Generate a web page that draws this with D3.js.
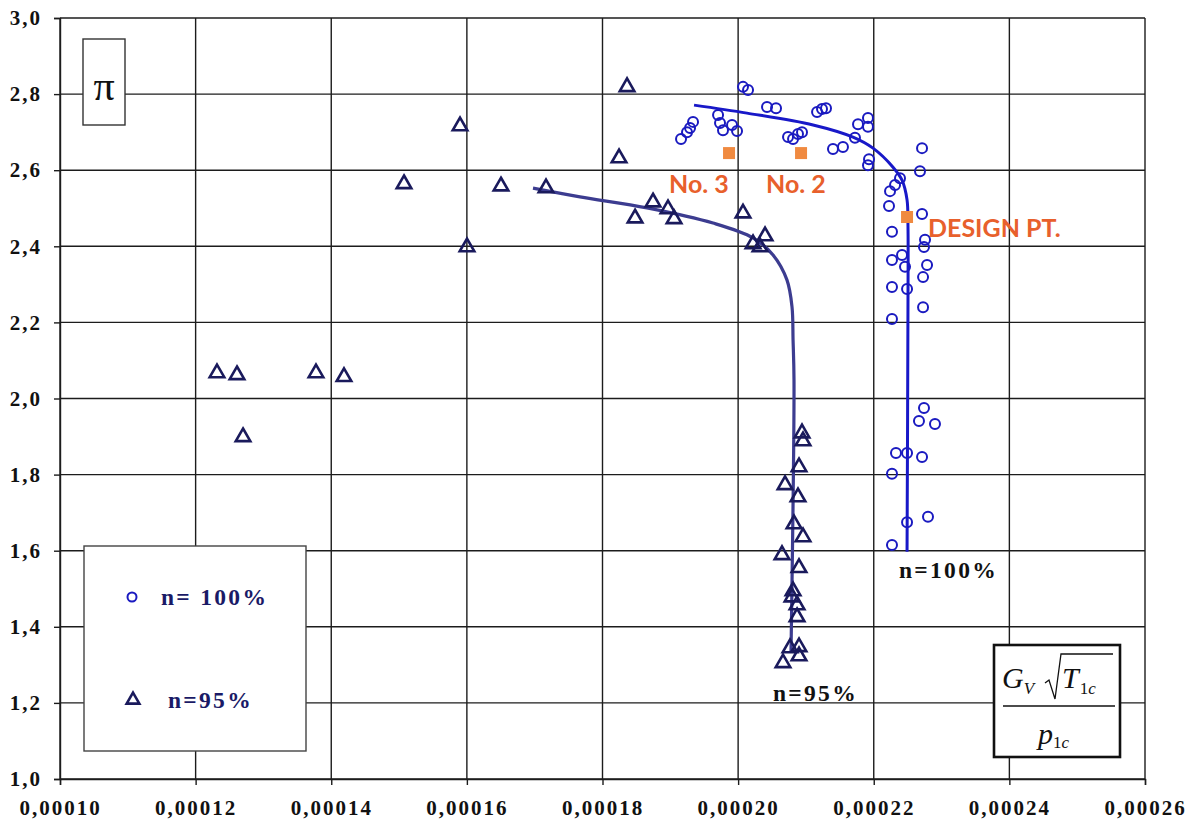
<!DOCTYPE html>
<html>
<head>
<meta charset="utf-8">
<script src="https://cdn.jsdelivr.net/npm/d3@7"></script>
<style>
  html, body { margin: 0; padding: 0; background: #fff; }
  svg { display: block; }
  .tick-label { font-family: 'Liberation Serif', 'Times New Roman', serif; font-weight: bold; font-size: 21px; letter-spacing: 2px; fill: #111; }
</style>
</head>
<body>
<svg id="chart" width="1193" height="822"></svg>
<script>
// Axis ticks
const xTicks = [0.00010, 0.00012, 0.00014, 0.00016, 0.00018, 0.00020, 0.00022, 0.00024, 0.00026];
const yTicks = [1.0, 1.2, 1.4, 1.6, 1.8, 2.0, 2.2, 2.4, 2.6, 2.8, 3.0];

// Measured points, speed line n = 100 % : [flow parameter, pressure ratio]
const pts100 = [
  [0.00020072, 2.819], [0.00020146, 2.811], [0.00020426, 2.766], [0.00020559, 2.763],
  [0.00021164, 2.753], [0.00021237, 2.761], [0.00021296, 2.763], [0.00019335, 2.727],
  [0.00019291, 2.711], [0.00019246, 2.700], [0.00019158, 2.682], [0.00019704, 2.745],
  [0.00019733, 2.724], [0.00019777, 2.705], [0.00019910, 2.719], [0.00019984, 2.703],
  [0.00020736, 2.687], [0.00020810, 2.682], [0.00020883, 2.695], [0.00020942, 2.700],
  [0.00021399, 2.656], [0.00021546, 2.661], [0.00021768, 2.721], [0.00021915, 2.737],
  [0.00021915, 2.714], [0.00021723, 2.685], [0.00021930, 2.629], [0.00021915, 2.613],
  [0.00022387, 2.579], [0.00022314, 2.561], [0.00022240, 2.545], [0.00022225, 2.506],
  [0.00022712, 2.658], [0.00022682, 2.597], [0.00022712, 2.485], [0.00022269, 2.438],
  [0.00022756, 2.417], [0.00022741, 2.398], [0.00022269, 2.364], [0.00022417, 2.377],
  [0.00022461, 2.346], [0.00022786, 2.351], [0.00022727, 2.319], [0.00022269, 2.293],
  [0.00022491, 2.288], [0.00022727, 2.240], [0.00022269, 2.209], [0.00022741, 1.975],
  [0.00022667, 1.941], [0.00022903, 1.933], [0.00022328, 1.857], [0.00022491, 1.857],
  [0.00022712, 1.846], [0.00022269, 1.802], [0.00022800, 1.689], [0.00022491, 1.675],
  [0.00022269, 1.615]
];

// Measured points, speed line n = 95 %
const pts95 = [
  [0.00018362, 2.819], [0.00018244, 2.632], [0.00015899, 2.716], [0.00015073, 2.564],
  [0.00016503, 2.558], [0.00017167, 2.553], [0.00016002, 2.398], [0.00018745, 2.516],
  [0.00018480, 2.474], [0.00018966, 2.498], [0.00019055, 2.472], [0.00020072, 2.487],
  [0.00020397, 2.427], [0.00020220, 2.406], [0.00020323, 2.398], [0.00012315, 2.067],
  [0.00012610, 2.062], [0.00013775, 2.067], [0.00014188, 2.057], [0.00012699, 1.899],
  [0.00020942, 1.909], [0.00020957, 1.888], [0.00020898, 1.820], [0.00020692, 1.773],
  [0.00020883, 1.741], [0.00020824, 1.670], [0.00020957, 1.636], [0.00020647, 1.589],
  [0.00020898, 1.555], [0.00020810, 1.494], [0.00020795, 1.478], [0.00020869, 1.457],
  [0.00020869, 1.426], [0.00020765, 1.344], [0.00020898, 1.347], [0.00020898, 1.323],
  [0.00020662, 1.305]
];

// Fitted characteristic lines
const curve100 = [
  [0.00019350, 2.771], [0.00020131, 2.750], [0.00021105, 2.719], [0.00021694, 2.687],
  [0.00021989, 2.658], [0.00022284, 2.608], [0.00022417, 2.574], [0.00022491, 2.522],
  [0.00022505, 2.451], [0.00022505, 2.259], [0.00022491, 1.597]
];
const curve95 = [
  [0.00016975, 2.553], [0.00017668, 2.530], [0.00018657, 2.501], [0.00019630, 2.461],
  [0.00020220, 2.422], [0.00020515, 2.377], [0.00020721, 2.311], [0.00020795, 2.240],
  [0.00020810, 2.154], [0.00020824, 2.049], [0.00020780, 1.334]
];

// Operating points
const opPoints = [
  { name: "No. 3", x: 0.00019866, y: 2.645 },
  { name: "No. 2", x: 0.00020928, y: 2.645 },
  { name: "DESIGN PT.", x: 0.00022491, y: 2.477 }
];

const svg = d3.select("#chart");
const x = d3.scaleLinear().domain([0.00010, 0.00026]).range([60, 1145]);
const y = d3.scaleLinear().domain([1.0, 3.0]).range([779, 18]);

const fmtX = v => d3.format(".5f")(v).replace(".", ",");
const fmtY = v => d3.format(".1f")(v).replace(".", ",");
const SERIF = "'Liberation Serif', 'Times New Roman', serif";

// Grid
const grid = svg.append("g").attr("stroke", "#1c1c1c").attr("stroke-width", 1.4);
grid.selectAll("line.v").data(xTicks).join("line")
  .attr("x1", d => x(d)).attr("x2", d => x(d))
  .attr("y1", y(3.0)).attr("y2", y(1.0));
grid.selectAll("line.h").data(yTicks).join("line")
  .attr("x1", x(0.00010)).attr("x2", x(0.00026))
  .attr("y1", d => y(d)).attr("y2", d => y(d));

// Axes
const xAxis = svg.append("g").attr("transform", `translate(0,${y(1.0)})`)
  .call(d3.axisBottom(x).tickValues(xTicks).tickFormat(fmtX).tickSize(6));
const yAxis = svg.append("g").attr("transform", `translate(${x(0.00010)},0)`)
  .call(d3.axisLeft(y).tickValues(yTicks).tickFormat(fmtY).tickSize(6).tickPadding(12));
[xAxis, yAxis].forEach(a => {
  a.select(".domain").attr("stroke", "#1c1c1c").attr("stroke-width", 1.4);
  a.selectAll(".tick line").attr("stroke", "#1c1c1c").attr("stroke-width", 1.4);
  a.selectAll(".tick text").attr("class", "tick-label").attr("font-size", null).attr("font-family", null);
});
xAxis.selectAll(".tick text").attr("y", 36).attr("dy", 0);

// Boxes with white fill over the grid
function box(x0, y0, x1, y1, sw, col) {
  return svg.append("rect").attr("x", x0).attr("y", y0)
    .attr("width", x1 - x0).attr("height", y1 - y0)
    .attr("fill", "#fff").attr("stroke", col).attr("stroke-width", sw);
}

// Pi label
box(83, 39, 125, 125, 1.4, "#333");
svg.append("text").attr("x", 104).attr("y", 100).attr("text-anchor", "middle")
  .attr("font-family", SERIF).attr("font-size", 42).attr("fill", "#111")
  .text("π");

// Legend
box(84, 546, 306, 751, 1.4, "#444");

// Formula box: G_V sqrt(T_1c) / p_1c
box(994, 645, 1120, 757, 2.6, "#111");
const fx = svg.append("g").attr("font-family", SERIF).attr("fill", "#111");
const num = fx.append("text").attr("x", 1002).attr("y", 688).attr("font-size", 30).attr("font-style", "italic");
num.append("tspan").text("G");
num.append("tspan").attr("font-size", 17).attr("dy", 6).text("V");
fx.append("path")
  .attr("d", "M1045,683 L1049,680 L1055,699 L1061,654 L1113,654")
  .attr("fill", "none").attr("stroke", "#111").attr("stroke-width", 1.3);
const tt = fx.append("text").attr("x", 1062).attr("y", 688).attr("font-size", 30).attr("font-style", "italic");
tt.append("tspan").text("T");
tt.append("tspan").attr("font-size", 17).attr("font-style", "normal").attr("dy", 6).attr("dx", 1).text("1");
tt.append("tspan").attr("font-size", 17).text("c");
fx.append("line").attr("x1", 1003).attr("x2", 1115).attr("y1", 706).attr("y2", 706)
  .attr("stroke", "#111").attr("stroke-width", 1.3);
const den = fx.append("text").attr("x", 1038).attr("y", 744).attr("font-size", 30).attr("font-style", "italic");
den.append("tspan").text("p");
den.append("tspan").attr("font-size", 17).attr("font-style", "normal").attr("dy", 4).text("1");
den.append("tspan").attr("font-size", 17).text("c");

// Characteristic lines
const line = d3.line().x(d => x(d[0])).y(d => y(d[1])).curve(d3.curveCatmullRom.alpha(0.5));
svg.append("path").datum(curve95).attr("d", line)
  .attr("fill", "none").attr("stroke", "#3c3c90").attr("stroke-width", 3.2);
svg.append("path").datum(curve100).attr("d", line)
  .attr("fill", "none").attr("stroke", "#1818c8").attr("stroke-width", 3);

// Markers
const tri = d3.symbol().type(d3.symbolTriangle).size(92);
svg.append("g").selectAll("path").data(pts95).join("path")
  .attr("d", tri).attr("transform", d => `translate(${x(d[0])},${y(d[1])})`)
  .attr("fill", "none").attr("stroke", "#1a1a5c").attr("stroke-width", 2.6);
svg.append("g").selectAll("circle").data(pts100).join("circle")
  .attr("cx", d => x(d[0])).attr("cy", d => y(d[1])).attr("r", 5)
  .attr("fill", "none").attr("stroke", "#1a1ac0").attr("stroke-width", 2);

// Operating points
svg.append("g").selectAll("rect").data(opPoints).join("rect")
  .attr("x", d => x(d.x) - 6).attr("y", d => y(d.y) - 6).attr("width", 12).attr("height", 12)
  .attr("fill", "#f08a40");
const opLabels = [
  { x: 669, y: 193 }, { x: 766, y: 193 }, { x: 928, y: 237 }
];
svg.append("g").selectAll("text").data(opPoints).join("text")
  .attr("x", (d, i) => opLabels[i].x).attr("y", (d, i) => opLabels[i].y)
  .attr("font-family", "Lato, sans-serif").attr("font-weight", "bold").attr("font-size", 25)
  .attr("fill", "#e8602c").text(d => d.name);

// Line annotations
const serifBold = g => g.attr("font-family", SERIF).attr("font-weight", "bold")
  .attr("font-size", 23.5).attr("letter-spacing", "2.3px");
svg.append("text").call(serifBold).attr("x", 899).attr("y", 578).attr("fill", "#111").text("n=100%");
svg.append("text").call(serifBold).attr("x", 773).attr("y", 701).attr("fill", "#111").text("n=95%");

// Legend entries
svg.append("circle").attr("cx", 132).attr("cy", 597).attr("r", 4.5)
  .attr("fill", "none").attr("stroke", "#1a1ac0").attr("stroke-width", 2);
svg.append("text").call(serifBold).attr("x", 161).attr("y", 605).attr("fill", "#1a1a66").text("n= 100%");
svg.append("path").attr("d", d3.symbol().type(d3.symbolTriangle).size(70)())
  .attr("transform", "translate(133,700)")
  .attr("fill", "none").attr("stroke", "#1a1a5c").attr("stroke-width", 2.6);
svg.append("text").call(serifBold).attr("x", 168).attr("y", 708).attr("fill", "#1a1a66").text("n=95%");
</script>
</body>
</html>
